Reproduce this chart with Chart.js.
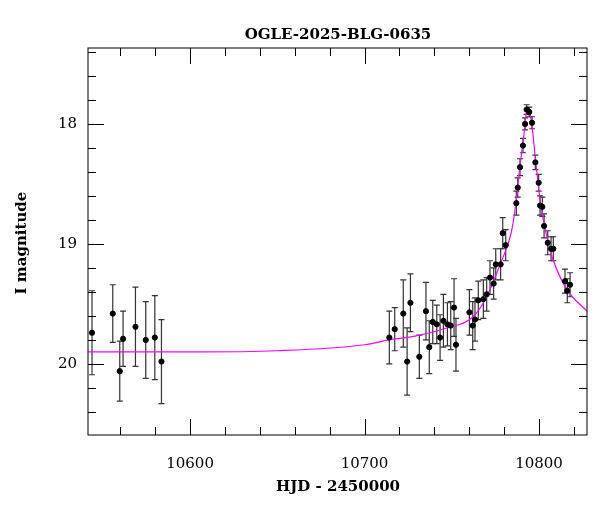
<!DOCTYPE html>
<html><head><meta charset="utf-8">
<script src="https://cdn.jsdelivr.net/npm/chart.js@4"></script>
<style>html,body{margin:0;background:#fff}#w{width:600px;height:512px}</style>
</head><body><div id="w"><canvas id="c"></canvas></div>
<script>
const hjd = [10543.8,10555.7,10559.7,10561.6,10568.7,10574.6,10579.8,10583.6,
10714.2,10717.3,10722.2,10724.4,10726.3,10731.4,10735.2,10737.1,10739.1,10741.4,10743.3,10745.2,10747.5,10749.4,10751.3,10752.4,
10760.1,10762.0,10763.3,10765.2,10768.1,10770.0,10771.9,10774.0,10775.2,10778.0,10779.2,10780.9,
10787.0,10787.8,10789.1,10790.8,10792.0,10792.9,10794.4,10796.0,10797.9,10799.8,10800.6,10801.9,10802.9,10805.0,10806.9,10808.2,10814.9,10816.2,10817.8];
const mag = [19.74,19.58,20.06,19.79,19.69,19.80,19.78,19.98,
19.78,19.71,19.58,19.98,19.49,19.94,19.56,19.86,19.65,19.67,19.78,19.64,19.67,19.68,19.53,19.84,
19.57,19.68,19.63,19.47,19.46,19.42,19.28,19.33,19.17,19.17,18.91,19.01,
18.66,18.53,18.36,18.18,18.00,17.88,17.90,17.99,18.32,18.49,18.68,18.69,18.85,18.99,19.04,19.04,19.31,19.39,19.34];
const err = [0.35,0.24,0.25,0.23,0.33,0.32,0.35,0.35,
0.22,0.18,0.28,0.28,0.24,0.18,0.24,0.22,0.18,0.16,0.19,0.22,0.18,0.2,0.24,0.22,
0.19,0.2,0.18,0.16,0.16,0.14,0.14,0.13,0.13,0.13,0.13,0.13,
0.1,0.08,0.07,0.06,0.05,0.04,0.04,0.05,0.06,0.07,0.08,0.08,0.1,0.1,0.1,0.1,0.1,0.1,0.1];
const modelT = [10541.5,10600,10650,10700,10714,10728,10747,10762,10770,10778,10784,10786.5,10789,10791,10793.5,10796,10798,10800.6,10804.5,10808,10816,10827.5];
const modelM = [19.90,19.90,19.89,19.84,19.80,19.77,19.70,19.61,19.44,19.16,18.91,18.69,18.36,18.13,17.86,18.02,18.30,18.63,18.94,19.13,19.38,19.56];
const xMajor = [10600,10700,10800];
const yMajor = [18,19,20];
const titleText = 'OGLE-2025-BLG-0635';
const xTitle = 'HJD - 2450000';
const yTitle = 'I magnitude';

const FONT = '"DejaVu Serif", "Liberation Serif", serif';
const deco = {
  id:'deco',
  beforeDatasetsDraw(ch){
    const c=ch.ctx, x=ch.scales.x, y=ch.scales.y;
    c.save(); c.strokeStyle='#333'; c.lineWidth=1.2;
    hjd.forEach((t,i)=>{
      const px=x.getPixelForValue(t), a=y.getPixelForValue(mag[i]-err[i]), b=y.getPixelForValue(mag[i]+err[i]);
      c.beginPath(); c.moveTo(px,a); c.lineTo(px,b);
      c.moveTo(px-3,a); c.lineTo(px+3,a); c.moveTo(px-3,b); c.lineTo(px+3,b); c.stroke();
    });
    c.restore();
  },
  afterDraw(ch){
    const c=ch.ctx, x=ch.scales.x, y=ch.scales.y, a=ch.chartArea;
    c.save(); c.strokeStyle='#000'; c.lineWidth=1;
    c.strokeRect(a.left,a.top,a.right-a.left,a.bottom-a.top);
    c.beginPath();
    for(let v=10560; v<=x.max; v+=20){
      const p=Math.round(x.getPixelForValue(v))+0.5, L=(v%100===0)?16:8;
      c.moveTo(p,a.bottom); c.lineTo(p,a.bottom-L); c.moveTo(p,a.top); c.lineTo(p,a.top+L);
    }
    for(let k=Math.ceil(y.min*5); k<=Math.floor(y.max*5); k++){
      const v=k/5, p=Math.round(y.getPixelForValue(v))+0.5, L=(k%5===0)?16:8;
      c.moveTo(a.left,p); c.lineTo(a.left+L,p); c.moveTo(a.right,p); c.lineTo(a.right-L,p);
    }
    c.stroke();
    c.fillStyle='#000'; c.font='15px '+FONT;
    c.textAlign='center'; c.textBaseline='middle';
    xMajor.forEach(v=>c.fillText(String(v), x.getPixelForValue(v), a.bottom+29));
    c.textAlign='right';
    yMajor.forEach(v=>c.fillText(String(v), a.left-11, y.getPixelForValue(v)));
    c.textAlign='center';
    c.font='600 15px '+FONT;
    c.fillText(titleText, 338, 35);
    c.fillText(xTitle, 338, 487);
    c.translate(22,243); c.rotate(-Math.PI/2); c.fillText(yTitle,0,0);
    c.restore();
  }
};
new Chart(document.getElementById('c'),{
  type:'scatter',
  data:{datasets:[
    {data:hjd.map((t,i)=>({x:t,y:mag[i]})), backgroundColor:'#000', borderColor:'#000', pointRadius:2.6, order:1},
    {type:'line', data:modelT.map((t,i)=>({x:t,y:modelM[i]})), borderColor:'#ff00ff', borderWidth:1.2, pointRadius:0, cubicInterpolationMode:'monotone', order:2}
  ]},
  options:{
    responsive:true, maintainAspectRatio:false, animation:false,
    layout:{padding:{left:0,right:13,top:48,bottom:0}},
    plugins:{legend:{display:false},tooltip:{enabled:false}},
    scales:{
      x:{type:'linear',min:10541.5,max:10827.5,grid:{display:false},border:{display:false},ticks:{display:false},
         afterFit(s){s.height=77;}},
      y:{type:'linear',reverse:true,min:17.367,max:20.592,grid:{display:false},border:{display:false},ticks:{display:false},
         afterFit(s){s.width=88;}}
    }
  },
  plugins:[deco]
});
</script></body></html>
